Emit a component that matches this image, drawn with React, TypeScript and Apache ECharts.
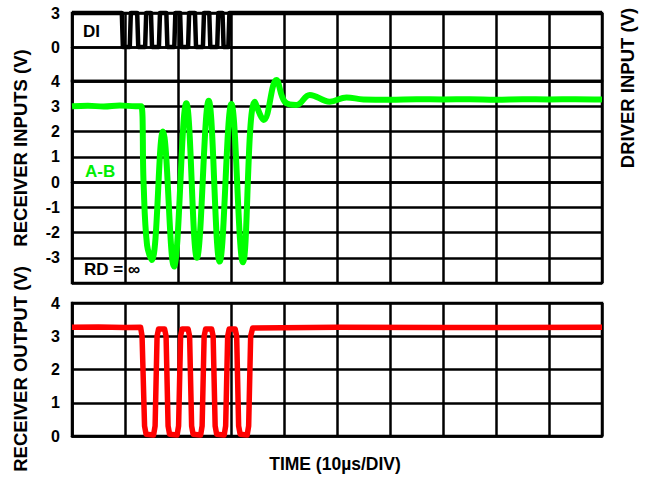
import React, { useEffect, useRef } from 'react';
import * as echarts from 'echarts';

// Time axis in µs (10 µs/div, 10 divisions)
const timeTicks = [0, 10, 20, 30, 40, 50, 60, 70, 80, 90, 100];

// DI (driver input), V
const diTime = [0, 9.4, 9.6, 10.9, 11.1, 12.3, 12.5, 13.8, 14.0, 14.9, 15.1, 16.4, 16.6, 17.8, 18.0, 19.3, 19.5, 20.4, 20.6, 21.9, 22.1, 23.2, 23.4, 24.7, 24.9, 25.9, 26.1, 27.4, 27.6, 28.4, 28.6, 29.5, 29.7, 100];
const diVolt = [3, 3, 0, 0, 3, 3, 0, 0, 3, 3, 0, 0, 3, 3, 0, 0, 3, 3, 0, 0, 3, 3, 0, 0, 3, 3, 0, 0, 3, 3, 0, 0, 3, 3];

// A-B (receiver inputs), V
const abTime = [0, 3, 6, 9, 12, 13.07, 13.5, 14.16, 15.07, 17.15, 19.23, 21.57, 23.57, 25.79, 27.86, 30.07, 32.26, 34.47, 36.17, 38.57, 40.14, 42.35, 44.86, 48.64, 51.8, 55, 60, 65, 70, 75, 80, 85, 90, 95, 100];
const abVolt = [3.0, 3.02, 2.99, 3.03, 3.0, 3.0, 0.0, -2.5, -3.09, 2.0, -3.35, 3.12, -3.0, 3.22, -3.15, 3.09, -3.18, 3.18, 2.46, 4.04, 3.18, 3.05, 3.45, 3.18, 3.35, 3.27, 3.26, 3.28, 3.27, 3.28, 3.26, 3.28, 3.27, 3.28, 3.27];

// RO (receiver output), V
const roTime = [0, 5, 10, 12.94, 13.22, 13.69, 13.98, 15.39, 15.68, 16.05, 16.34, 17.47, 17.75, 18.13, 18.41, 19.83, 20.11, 20.49, 20.77, 21.91, 22.19, 22.57, 22.85, 24.27, 24.55, 24.93, 25.21, 26.35, 26.63, 27.01, 27.29, 28.71, 28.99, 29.37, 29.65, 30.78, 31.07, 31.44, 31.73, 33.05, 33.33, 33.71, 34.09, 50, 70, 100];
const roVolt = [3.27, 3.28, 3.26, 3.27, 3.0, 0.3, 0.05, 0.03, 0.3, 3.0, 3.22, 3.22, 3.0, 0.3, 0.05, 0.03, 0.3, 3.0, 3.22, 3.22, 3.0, 0.3, 0.05, 0.03, 0.3, 3.0, 3.22, 3.22, 3.0, 0.3, 0.05, 0.03, 0.3, 3.0, 3.22, 3.22, 3.0, 0.3, 0.05, 0.03, 0.3, 3.0, 3.25, 3.27, 3.26, 3.27];

const zip = (xs: number[], ys: number[]) => xs.map((x, i) => [x, ys[i]]);

export default function App() {
  const ref = useRef<HTMLDivElement>(null);
  useEffect(() => {
    const chart = echarts.init(ref.current!, null, { renderer: 'svg' });
    const font = 'Arial, "Liberation Sans", sans-serif';
    const lineW = 2.5;
    const left = 72;
    const width = 530;
    const grids = [
      { top: 13, height: 68 },
      { top: 81, height: 202 },
      { top: 303, height: 133 },
    ].map((g) => ({ ...g, left, width, show: true, borderColor: '#000', borderWidth: lineW }));

    const xAxes = grids.map((_, i) => ({
      type: 'value',
      gridIndex: i,
      min: timeTicks[0],
      max: timeTicks[timeTicks.length - 1],
      interval: 10,
      axisLabel: { show: false },
      axisTick: { show: false },
      axisLine: { show: true, lineStyle: { color: '#000', width: lineW } },
      splitLine: { show: true, lineStyle: { color: '#000', width: lineW } },
    }));

    const labelStyle = { color: '#000', fontFamily: font, fontWeight: 'bold', fontSize: 16, margin: 12 };
    const yBase = {
      type: 'value',
      axisTick: { show: false },
      axisLine: { show: true, lineStyle: { color: '#000', width: lineW } },
      splitLine: { show: true, lineStyle: { color: '#000', width: lineW } },
    };
    const yAxes = [
      { ...yBase, gridIndex: 0, min: -3, max: 3, interval: 3, axisLabel: { ...labelStyle, formatter: (v: number) => (v === -3 ? '' : String(v)) } },
      { ...yBase, gridIndex: 1, min: -4, max: 4, interval: 1, axisLabel: { ...labelStyle, formatter: (v: number) => (v === -4 ? '' : String(v)) } },
      { ...yBase, gridIndex: 2, min: 0, max: 4, interval: 1, axisLabel: { ...labelStyle } },
    ];

    const txt = (text: string, x: number, y: number, size: number, color = '#000', rot = 0, align = 'left') => ({
      type: 'text',
      x,
      y,
      rotation: rot,
      style: { text, fill: color, font: `bold ${size}px ${font}`, align, verticalAlign: 'middle' },
      z: 100,
    });

    chart.setOption({
      animation: false,
      grid: grids,
      xAxis: xAxes,
      yAxis: yAxes,
      series: [
        {
          type: 'line', xAxisIndex: 0, yAxisIndex: 0, data: zip(diTime, diVolt), showSymbol: false, clip: false,
          lineStyle: { color: '#000', width: 4.5, join: 'round' }, z: 5,
        },
        {
          type: 'line', xAxisIndex: 1, yAxisIndex: 1, data: zip(abTime, abVolt), showSymbol: false, clip: false, smooth: 0.4,
          lineStyle: { color: '#00ff00', width: 6 }, z: 5,
        },
        {
          type: 'line', xAxisIndex: 2, yAxisIndex: 2, data: zip(roTime, roVolt), showSymbol: false, clip: false,
          lineStyle: { color: '#ff0000', width: 5.5, join: 'round' }, z: 5,
        },
      ],
      graphic: [
        txt('DI', 83, 31, 17),
        txt('A-B', 85, 171, 17, '#00ee00'),
        txt('RD = ∞', 84, 269, 17),
        txt('RECEIVER INPUTS (V)', 20, 148, 18.5, '#000', Math.PI / 2, 'center'),
        txt('RECEIVER OUTPUT (V)', 20, 369, 18.5, '#000', Math.PI / 2, 'center'),
        txt('DRIVER INPUT (V)', 627, 88, 18.5, '#000', Math.PI / 2, 'center'),
        txt('TIME (10µs/DIV)', 335, 464, 17.5, '#000', 0, 'center'),
      ],
    });
    return () => chart.dispose();
  }, []);
  return <div ref={ref} style={{ position: 'absolute', left: 0, top: 0, width: 645, height: 479, background: '#fff' }} />;
}
